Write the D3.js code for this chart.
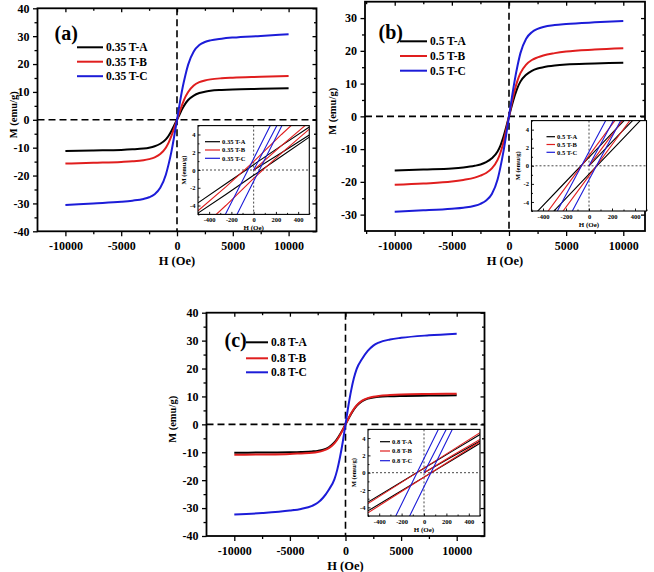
<!DOCTYPE html>
<html><head><meta charset="utf-8">
<script src="https://cdn.jsdelivr.net/npm/d3@7"></script>
<style>
body{margin:0;background:#fff}
svg{display:block}
text{font-family:"Liberation Serif","Times New Roman",serif;font-weight:bold}
</style>
</head><body>
<svg id="chart" width="654" height="572"></svg>
<script>
// ---------- DATA ----------
const H_main = [-10000,-7500,-5000,-4000,-3000,-2500,-2000,-1500,-1000,-750,-500,-250,0,250,500,750,1000,1500,2000,2500,3000,4000,5000,7500,10000];

// Panel (a) 0.35 T
const Ma_A = [-11.2,-11.0,-10.8,-10.6,-10.3,-10.0,-9.5,-8.6,-7.0,-5.7,-4.0,-2.0,0,2.1,4.1,5.8,7.1,8.7,9.6,10.1,10.4,10.7,10.9,11.1,11.3];
const Ma_B = [-15.7,-15.4,-15.1,-14.9,-14.5,-14.1,-13.5,-12.3,-10.0,-8.2,-5.8,-3.0,0,3.0,5.8,8.2,10.0,12.3,13.5,14.1,14.5,14.9,15.1,15.4,15.7];
const Ma_C = [-30.6,-30.0,-29.4,-29.0,-28.4,-27.8,-26.7,-24.4,-19.7,-15.9,-11.4,-5.9,0,6.0,11.5,16.0,19.8,24.5,26.8,27.9,28.5,29.1,29.5,30.1,30.7];
// Panel (b) 0.5 T
const Mb_A = [-16.5,-16.2,-15.9,-15.6,-15.1,-14.7,-14.0,-12.8,-10.7,-8.9,-6.4,-3.3,0,3.3,6.3,8.8,10.6,12.7,13.9,14.6,15.0,15.5,15.8,16.1,16.4];
const Mb_B = [-20.9,-20.5,-19.9,-19.4,-18.7,-18.1,-17.3,-15.9,-13.3,-11.1,-8.1,-4.2,0,4.2,8.0,11.0,13.2,15.8,17.2,18.0,18.6,19.3,19.8,20.4,20.8];
const Mb_C = [-29.1,-28.7,-28.2,-27.9,-27.3,-26.7,-25.7,-23.7,-19.3,-15.5,-11.0,-5.7,0,5.7,11.0,15.5,19.3,23.7,25.7,26.7,27.3,27.9,28.2,28.7,29.1];
// Panel (c) 0.8 T
const Mc_A = [-10.2,-10.1,-10.0,-9.9,-9.7,-9.5,-9.1,-8.2,-6.5,-5.2,-3.6,-1.9,0,1.9,3.7,5.3,6.6,8.3,9.2,9.6,9.9,10.1,10.2,10.3,10.4];
const Mc_B = [-10.9,-10.8,-10.6,-10.4,-10.2,-9.9,-9.4,-8.5,-6.8,-5.5,-3.9,-2.0,0,2.0,3.9,5.5,6.8,8.5,9.4,9.9,10.2,10.5,10.7,10.9,11.0];
const Mc_C = [-32.3,-31.8,-30.9,-30.3,-29.2,-28.1,-26.2,-23.4,-19.7,-16.4,-11.9,-6.4,0,6.4,12.0,16.5,19.8,23.5,26.3,28.2,29.3,30.4,31.0,31.9,32.5];

// Insets (low-field loops): descending branch, ascending branch, initial curve
const H_inset = [-500,-250,0,250,500];
const H_init = [0,250,500];
const Ia_A_up = [-3.7,-1.55,0.6,2.75,4.85],  Ia_A_lo = [-4.85,-2.75,-0.6,1.55,3.7],  Ia_A_in = [0,1.95,3.95];
const Ia_B_up = [-4.6,-1.9,0.95,4.0,6.9],    Ia_B_lo = [-6.9,-4.0,-0.95,1.9,4.6],    Ia_B_in = [0,2.75,5.4];
const Ia_C_up = [-11.0,-4.9,1.28,7.5,13.6],  Ia_C_lo = [-13.6,-7.5,-1.28,4.9,11.0],  Ia_C_in = [0,6.0,11.5];
const Ib_A_up = [-5.73,-2.4,0.93,4.27,7.6],  Ib_A_lo = [-7.6,-4.27,-0.93,2.4,5.73],  Ib_A_in = [0,3.3,6.6];
const Ib_B_up = [-7.5,-3.19,1.12,5.43,9.74], Ib_B_lo = [-9.74,-5.43,-1.12,3.19,7.5], Ib_B_in = [0,4.3,8.6];
const Ib_C_up = [-10.4,-4.4,1.55,7.5,13.4],  Ib_C_lo = [-13.4,-7.5,-1.55,4.4,10.4],  Ib_C_in = [0,5.9,11.8];
const Ic_A_up = [-3.39,-1.44,0.51,2.46,4.41],Ic_A_lo = [-4.41,-2.46,-0.51,1.44,3.39],Ic_A_in = [0,1.85,3.65];
const Ic_B_up = [-3.57,-1.52,0.53,2.58,4.63],Ic_B_lo = [-4.63,-2.58,-0.53,1.52,3.57],Ic_B_in = [0,1.95,3.85];
const Ic_C_up = [-11.5,-4.94,1.63,8.2,14.8], Ic_C_lo = [-14.8,-8.2,-1.63,4.94,11.5], Ic_C_in = [0,6.3,12.6];

const legend_a = ["0.35 T-A","0.35 T-B","0.35 T-C"];
const legend_b = ["0.5 T-A","0.5 T-B","0.5 T-C"];
const legend_c = ["0.8 T-A","0.8 T-B","0.8 T-C"];
const panelLabels = ["(a)","(b)","(c)"];

const xTicksMain = [-10000,-5000,0,5000,10000];
const xTickLabelsMain = ["-10000","-5000","0","5000","10000"];
const xMinorMain = [-12500,-7500,-2500,2500,7500,12500];
const yTicks40 = [-40,-30,-20,-10,0,10,20,30,40];
const yTickLabels40 = ["-40","-30","-20","-10","0","10","20","30","40"];
const yMinor40 = [-35,-25,-15,-5,5,15,25,35];
const yTicks30 = [-30,-20,-10,0,10,20,30];
const yTickLabels30 = ["-30","-20","-10","0","10","20","30"];
const yMinor30 = [-35,-25,-15,-5,5,15,25,35];
const xTicksInset = [-400,-200,0,200,400];
const xTickLabelsInset = ["-400","-200","0","200","400"];
const xMinorInset = [-500,-300,-100,100,300,500];
const yTicksInset = [-4,-2,0,2,4];
const yTickLabelsInset = ["-4","-2","0","2","4"];
const yMinorInset = [-5,-3,-1,1,3,5];
const xTitle = "H (Oe)";
const yTitle = "M (emu/g)";

// ---------- DRAWING ----------
const svg = d3.select("#chart");
const colors = ["#000000","#e01e1e","#1c1cd8"];
const FONT = '"Liberation Serif","Times New Roman",serif';

function styleAxis(g, size){
  g.attr("font-family", FONT).attr("font-size", size).attr("font-weight","bold");
  g.selectAll("text").attr("fill","#000");
}

function drawPanel(p){
  const x = d3.scaleLinear().domain(p.xDomain).range(p.xRange);
  const y = d3.scaleLinear().domain(p.yDomain).range(p.yRange);
  const [x0,x1] = p.xRange, [y0,y1] = p.yRange;
  const cid = "clip-" + p.key;
  svg.append("clipPath").attr("id",cid).append("rect")
    .attr("x",x0).attr("y",y1).attr("width",x1-x0).attr("height",y0-y1);
  const g = svg.append("g");
  g.append("line").attr("x1",x0).attr("x2",x1).attr("y1",y(0)).attr("y2",y(0))
    .attr("stroke","#000").attr("stroke-width",1.6).attr("stroke-dasharray","7,4");
  g.append("line").attr("x1",x(0)).attr("x2",x(0)).attr("y1",y1).attr("y2",y0)
    .attr("stroke","#000").attr("stroke-width",1.6).attr("stroke-dasharray","7,4");
  const line = d3.line().x((d,i)=>x(H_main[i])).y(d=>y(d)).curve(d3.curveMonotoneX);
  p.series.forEach((s,i)=>{
    g.append("path").attr("d",line(s)).attr("fill","none")
      .attr("stroke",colors[i]).attr("stroke-width",2).attr("clip-path",`url(#${cid})`);
  });
  const ax = g.append("g").attr("transform",`translate(0,${y0})`)
    .call(d3.axisBottom(x).tickValues(xTicksMain).tickFormat((d,i)=>xTickLabelsMain[i]).tickSizeInner(5).tickSizeOuter(0).tickPadding(5));
  styleAxis(ax, 12);
  g.append("g").attr("transform",`translate(0,${y0})`)
    .call(d3.axisBottom(x).tickValues(xMinorMain.filter(v=>v>p.xDomain[0]&&v<p.xDomain[1])).tickFormat("").tickSizeInner(3).tickSizeOuter(0));
  const ay = g.append("g").attr("transform",`translate(${x0},0)`)
    .call(d3.axisLeft(y).tickValues(p.yTicks).tickFormat((d,i)=>p.yTickLabels[i]).tickSizeInner(4.5).tickSizeOuter(0).tickPadding(3.5));
  styleAxis(ay, 12);
  g.append("g").attr("transform",`translate(${x0},0)`)
    .call(d3.axisLeft(y).tickValues(p.yMinor.filter(v=>v>p.yDomain[0]&&v<p.yDomain[1])).tickFormat("").tickSizeInner(3).tickSizeOuter(0));
  g.append("g").attr("transform",`translate(0,${y1})`)
    .call(d3.axisTop(x).tickValues(xTicksMain).tickFormat("").tickSizeInner(-4).tickSizeOuter(0));
  g.append("g").attr("transform",`translate(0,${y1})`)
    .call(d3.axisTop(x).tickValues(xMinorMain.filter(v=>v>p.xDomain[0]&&v<p.xDomain[1])).tickFormat("").tickSizeInner(-2.5).tickSizeOuter(0));
  g.append("g").attr("transform",`translate(${x1},0)`)
    .call(d3.axisRight(y).tickValues(p.yTicks).tickFormat("").tickSizeInner(-4).tickSizeOuter(0));
  g.append("g").attr("transform",`translate(${x1},0)`)
    .call(d3.axisRight(y).tickValues(p.yMinor.filter(v=>v>p.yDomain[0]&&v<p.yDomain[1])).tickFormat("").tickSizeInner(-2.5).tickSizeOuter(0));
  g.selectAll(".domain").remove();
  g.selectAll(".tick line").attr("stroke","#000").attr("stroke-width",1.3);
  g.append("rect").attr("x",x0).attr("y",y1).attr("width",x1-x0).attr("height",y0-y1)
    .attr("fill","none").attr("stroke","#000").attr("stroke-width",1.8);
  g.append("text").attr("x",(x0+x1)/2).attr("y",y0+34).attr("text-anchor","middle")
    .attr("font-size",12.5).text(xTitle);
  g.append("text").attr("transform",`translate(${p.yTitleX},${(y0+y1)/2-5}) rotate(-90)`)
    .attr("text-anchor","middle").attr("dy","0.35em").attr("font-size",10.5).text(yTitle);
  g.append("text").attr("x",p.labelX).attr("y",p.labelY).attr("font-size",20).text(p.label);
  p.legend.forEach((t,i)=>{
    g.append("line").attr("x1",p.legX1).attr("x2",p.legX2).attr("y1",p.legY[i]).attr("y2",p.legY[i])
      .attr("stroke",colors[i]).attr("stroke-width",2);
    g.append("text").attr("x",p.legX2+3).attr("y",p.legY[i]).attr("dy","0.35em")
      .attr("font-size",11.5).text(t);
  });
  drawInset(p.inset);
}

function drawInset(q){
  const x = d3.scaleLinear().domain([-500,500]).range(q.xRange);
  const y = d3.scaleLinear().domain([-5,5]).range(q.yRange);
  const [x0,x1] = q.xRange, [y0,y1] = q.yRange;
  const cid = "clip-in-" + q.key;
  svg.append("clipPath").attr("id",cid).append("rect")
    .attr("x",x0).attr("y",y1).attr("width",x1-x0).attr("height",y0-y1);
  const g = svg.append("g");
  g.append("rect").attr("x",x0).attr("y",y1).attr("width",x1-x0).attr("height",y0-y1).attr("fill","#fff");
  g.append("line").attr("x1",x0).attr("x2",x1).attr("y1",y(0)).attr("y2",y(0))
    .attr("stroke","#333").attr("stroke-width",0.9).attr("stroke-dasharray","2,2");
  g.append("line").attr("x1",x(0)).attr("x2",x(0)).attr("y1",y1).attr("y2",y0)
    .attr("stroke","#333").attr("stroke-width",0.9).attr("stroke-dasharray","2,2");
  const lineB = d3.line().x((d,i)=>x(H_inset[i])).y(d=>y(d));
  const lineI = d3.line().x((d,i)=>x(H_init[i])).y(d=>y(d));
  q.series.forEach((s,i)=>{
    [s[0],s[1]].forEach(b=>{
      g.append("path").attr("d",lineB(b)).attr("fill","none").attr("stroke",colors[i])
        .attr("stroke-width",1.1).attr("clip-path",`url(#${cid})`);
    });
    g.append("path").attr("d",lineI(s[2])).attr("fill","none").attr("stroke",colors[i])
      .attr("stroke-width",1.1).attr("clip-path",`url(#${cid})`);
  });
  const ax = g.append("g").attr("transform",`translate(0,${y0})`)
    .call(d3.axisBottom(x).tickValues(xTicksInset).tickFormat((d,i)=>xTickLabelsInset[i]).tickSizeInner(-2.5).tickSizeOuter(0).tickPadding(3));
  styleAxis(ax, 6.5);
  g.append("g").attr("transform",`translate(0,${y0})`)
    .call(d3.axisBottom(x).tickValues(xMinorInset).tickFormat("").tickSizeInner(-1.5).tickSizeOuter(0));
  const ay = g.append("g").attr("transform",`translate(${x0},0)`)
    .call(d3.axisLeft(y).tickValues(yTicksInset).tickFormat((d,i)=>yTickLabelsInset[i]).tickSizeInner(-2.5).tickSizeOuter(0).tickPadding(2.5));
  styleAxis(ay, 6.5);
  g.append("g").attr("transform",`translate(${x0},0)`)
    .call(d3.axisLeft(y).tickValues(yMinorInset).tickFormat("").tickSizeInner(-1.5).tickSizeOuter(0));
  g.selectAll(".domain").remove();
  g.selectAll(".tick line").attr("stroke","#000").attr("stroke-width",0.9);
  g.append("rect").attr("x",x0).attr("y",y1).attr("width",x1-x0).attr("height",y0-y1)
    .attr("fill","none").attr("stroke","#000").attr("stroke-width",1.1);
  g.append("text").attr("x",(x0+x1)/2).attr("y",y0+15.5).attr("text-anchor","middle")
    .attr("font-size",7).text(xTitle);
  g.append("text").attr("transform",`translate(${x0-14},${(y0+y1)/2}) rotate(-90)`)
    .attr("text-anchor","middle").attr("dy","0.35em").attr("font-size",6.5).text(yTitle);
  q.legend.forEach((t,i)=>{
    g.append("line").attr("x1",q.legX1).attr("x2",q.legX2).attr("y1",q.legY[i]).attr("y2",q.legY[i])
      .attr("stroke",colors[i]).attr("stroke-width",1.2);
    g.append("text").attr("x",q.legX2+2).attr("y",q.legY[i]).attr("dy","0.35em")
      .attr("font-size",6.5).text(t);
  });
}

drawPanel({
  key:"a", xDomain:[-12500,12500], xRange:[37.5,316.5], yDomain:[-40,40], yRange:[231.3,8.3],
  yTicks:yTicks40, yTickLabels:yTickLabels40, yMinor:yMinor40,
  series:[Ma_A,Ma_B,Ma_C], yTitleX:13.5,
  label:panelLabels[0], labelX:54.5, labelY:40,
  legend:legend_a, legX1:77, legX2:103, legY:[47.3,61.7,76.2],
  inset:{key:"a", xRange:[198,309.3], yRange:[214.4,125.6],
    series:[[Ia_A_up,Ia_A_lo,Ia_A_in],[Ia_B_up,Ia_B_lo,Ia_B_in],[Ia_C_up,Ia_C_lo,Ia_C_in]],
    legend:legend_a, legX1:205, legX2:220, legY:[141.7,150,158.3]}
});
drawPanel({
  key:"b", xDomain:[-12600,11900], xRange:[365,645], yDomain:[-35,35], yRange:[231,1.7],
  yTicks:yTicks30, yTickLabels:yTickLabels30, yMinor:yMinor30,
  series:[Mb_A,Mb_B,Mb_C], yTitleX:332,
  label:panelLabels[1], labelX:378.5, labelY:38.5,
  legend:legend_b, legX1:400, legX2:427, legY:[41.3,56,70.7],
  inset:{key:"b", xRange:[531.5,646.5], yRange:[211,120.6],
    series:[[Ib_A_up,Ib_A_lo,Ib_A_in],[Ib_B_up,Ib_B_lo,Ib_B_in],[Ib_C_up,Ib_C_lo,Ib_C_in]],
    legend:legend_b, legX1:546.5, legX2:555, legY:[136.7,144.5,152.3]}
});
drawPanel({
  key:"c", xDomain:[-12500,12500], xRange:[206.5,484.5], yDomain:[-40,40], yRange:[536,312.7],
  yTicks:yTicks40, yTickLabels:yTickLabels40, yMinor:yMinor40,
  series:[Mc_A,Mc_B,Mc_C], yTitleX:172.7,
  label:panelLabels[2], labelX:224.5, labelY:347,
  legend:legend_c, legX1:246, legX2:268, legY:[342.3,358.3,372.3],
  inset:{key:"c", xRange:[368,480], yRange:[516,429.4],
    series:[[Ic_A_up,Ic_A_lo,Ic_A_in],[Ic_B_up,Ic_B_lo,Ic_B_in],[Ic_C_up,Ic_C_lo,Ic_C_in]],
    legend:legend_c, legX1:380, legX2:390, legY:[441.7,451,460.7]}
});
</script>
</body></html>
